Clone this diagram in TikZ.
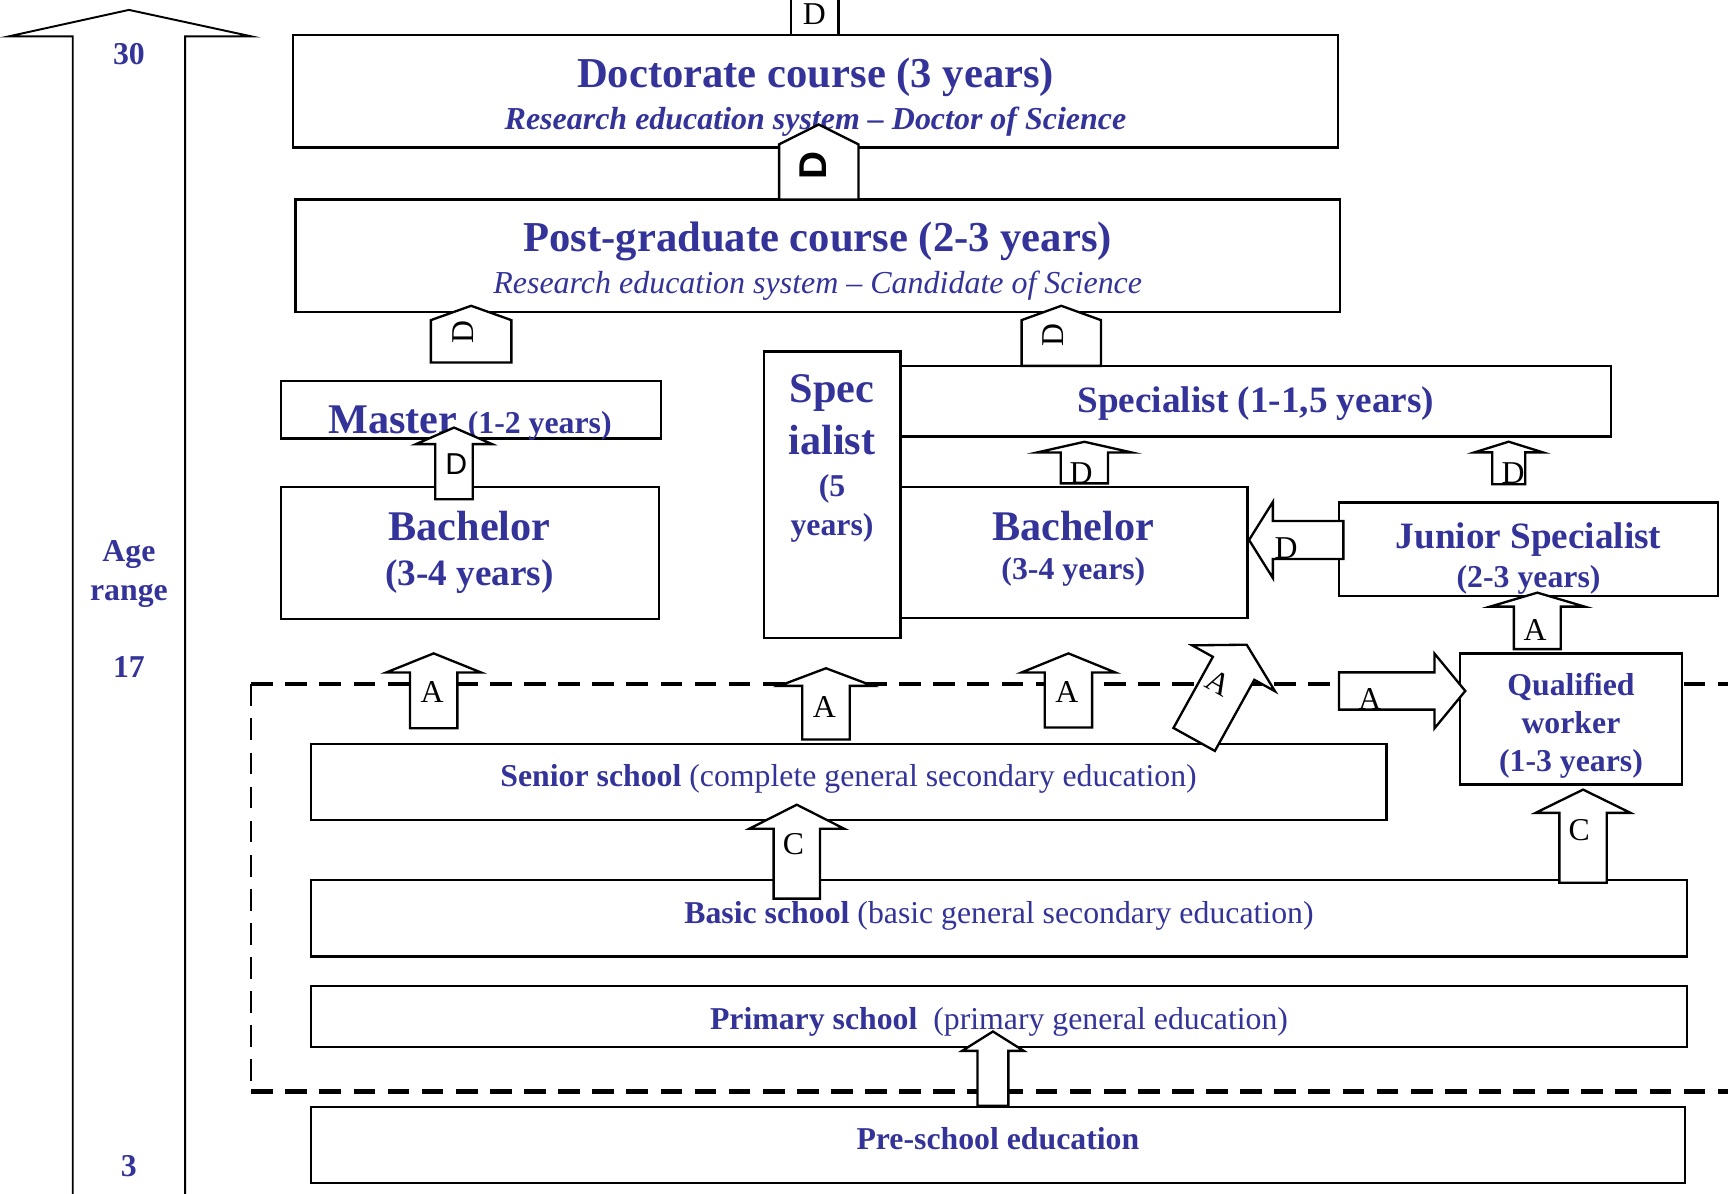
\documentclass[tikz,border=0pt]{standalone}
\usepackage{fontspec}
\setmainfont{Liberation Serif}
\newfontfamily\arialfont{Liberation Sans}
\usepackage{xcolor}
\definecolor{edublue}{RGB}{51,51,153}

\newcommand{\blockarrow}[6]{%
  \begin{scope}[shift={#1}, rotate=#2]
    \path[draw, fill=white] (-#3, 0) -- (-#3, -#5) -- (-#4, -#5) -- (0, -#5-#6) -- (#4, -#5) -- (#3, -#5) -- (#3, 0) -- cycle;
  \end{scope}}

\tikzset{
  box/.style={draw, fill=white},
  zone/.style={line width=1.1pt, dash pattern=on 5.6pt off 3.2pt},
  headname/.style={text=edublue, inner sep=0pt, font=\bfseries\fontsize{11}{13}\selectfont},
  bigname/.style={text=edublue, inner sep=0pt, font=\bfseries\fontsize{10.9}{13.4}\selectfont},
  midname/.style={text=edublue, inner sep=0pt, font=\bfseries\fontsize{9.6}{11}\selectfont},
  smallname/.style={text=edublue, inner sep=0pt, font=\bfseries\fontsize{8.2}{10.1}\selectfont},
  plainname/.style={text=edublue, inner sep=0pt, font=\fontsize{8.2}{10}\selectfont},
  subname/.style={text=edublue, inner sep=0pt, font=\itshape\fontsize{8.25}{10}\selectfont},
  gate/.style={inner sep=0pt, font=\fontsize{8.2}{10}\selectfont}
}

\begin{document}
\begin{tikzpicture}[x=0.01cm, y=-0.01cm, line width=0.6pt]
    \useasboundingbox (0, 0) rectangle (1568, 1083);
    \clip (0, 0) rectangle (1568, 1083);

    \path[draw, line width=0.5pt] (66, 1090) -- (66, 33) -- (8, 33) -- (117, 9) -- (228, 33) -- (168, 33) -- (168, 1090);
    \node[smallname] (age30) at (117, 49) {30};
    \node[smallname, align=center, font=\bfseries\fontsize{8.2}{9.9}\selectfont] (agerange) at (117, 521) {Age\\range};
    \node[smallname] (age17) at (117, 605) {17};
    \node[smallname] (age3) at (117, 1058) {3};

    \path[draw, zone] (228, 621) -- (1568, 621);
    \path[draw, zone] (228, 990.5) -- (1568, 990.5);
    \path[draw, zone, line width=0.6pt] (228, 621) -- (228, 990.5);

    \path[box] (266, 32) rectangle (1214, 134);
    \node[headname] (doctorate) at (740, 70) {Doctorate course (3 years)};
    \node[subname, font=\bfseries\itshape\fontsize{8.25}{10}\selectfont] (doctoratesub) at (740, 110) {Research education system – Doctor of Science};

    \path[box] (268, 181) rectangle (1216, 283);
    \node[headname] (postgrad) at (742, 219) {Post-graduate course (2-3 years)};
    \node[subname] (postgradsub) at (742, 259) {Research education system – Candidate of Science};

    \path[box] (255, 346) rectangle (600, 398);
    \node[bigname, anchor=base] (master) at (426.5, 393) {Master {\fontsize{8.2}{10}\selectfont(1-2 years)}};

    \path[box] (255, 442) rectangle (598, 562);
    \node[bigname] (bachelorl) at (426, 477) {Bachelor};
    \node[midname] (bachelorlyears) at (426, 523) {(3-4 years)};

    \path[box] (693, 319) rectangle (817, 579);
    \node[bigname, align=center] (specfive) at (755, 376.5) {Spec\\ialist};
    \node[smallname, align=center] (specfiveyears) at (755, 461) {(5\\years)};

    \path[box] (817, 332) rectangle (1462, 396) node[midway, midname, yshift=-0.6pt] (specialist) {Specialist (1-1,5 years)};

    \path[box] (817, 442) rectangle (1132, 561);
    \node[bigname] (bachelorr) at (974, 477) {Bachelor};
    \node[smallname] (bachelorryears) at (974, 519) {(3-4 years)};

    \path[box] (1215, 456) rectangle (1559, 541);
    \node[midname] (junior) at (1387, 490) {Junior Specialist};
    \node[smallname] (junioryears) at (1387, 526) {(2-3 years)};

    \path[box] (1325, 593) rectangle (1526, 712) node[midway, smallname, align=center, yshift=-1.7pt, font=\bfseries\fontsize{8.2}{9.9}\selectfont] (qualified) {Qualified\\worker\\(1-3 years)};

    \path[box] (282, 675) rectangle (1258, 744) node[midway, plainname, yshift=0.7pt] (senior) {\textbf{Senior school} (complete general secondary education)};
    \path[box] (282, 798.5) rectangle (1531, 868) node[midway, plainname, yshift=0.7pt] (basic) {\textbf{Basic school} (basic general secondary education)};
    \path[box] (282, 894.5) rectangle (1531, 950) node[midway, plainname, yshift=-1.4pt] (primary) {\textbf{Primary school}\ \ (primary general education)};
    \path[box] (282, 1004.3) rectangle (1529, 1073.7) node[midway, smallname, yshift=1.6pt] (preschool) {Pre-school education};

    \path[box] (718, -10) rectangle (761, 32);
    \node[gate] (dtop) at (739, 13) {D};

    \blockarrow{(743, 181)}{0}{36}{36}{50}{18}
    \node[gate, rotate=90, font=\arialfont\bfseries\fontsize{10}{12}\selectfont] (ddoctor) at (738, 150) {D};

    \blockarrow{(427.5, 329)}{0}{36.5}{36.5}{38.5}{13}
    \node[gate, rotate=90] (dmaster) at (420, 301) {D};
    \blockarrow{(963, 332)}{0}{36}{36}{41.5}{13}
    \node[gate, rotate=90] (dspecialist) at (955.5, 304) {D};

    \blockarrow{(412, 453)}{0}{17}{34.5}{50}{15}
    \node[gate, font=\arialfont\fontsize{7.8}{9}\selectfont] (dbachelorl) at (414, 421) {D};

    \blockarrow{(984, 438.6)}{0}{21.4}{43}{28}{9.7}
    \node[gate] (dbachelorr) at (981, 429) {D};
    \blockarrow{(1369, 439.5)}{0}{15}{31}{29}{9.7}
    \node[gate] (djunior) at (1373, 429) {D};

    \blockarrow{(1219, 490)}{90}{17.25}{34.5}{64}{21.6}
    \node[gate] (dleft) at (1167, 497) {D};

    \blockarrow{(1395, 589)}{0}{21.3}{43}{38.5}{12.7}
    \node[gate] (ajunior) at (1393, 572) {A};

    \blockarrow{(1215, 627)}{-90}{16.9}{34}{86.6}{28}
    \node[gate] (aqualified) at (1243, 634) {A};

    \blockarrow{(1083.6, 671)}{-29}{21.5}{43}{73.8}{24.5}
    \node[gate, rotate=-29] (atilted) at (1106, 620) {A};

    \blockarrow{(393.5, 660.8)}{0}{21.5}{43}{50.6}{17.3}
    \node[gate] (abachelorl) at (392, 628) {A};
    \blockarrow{(749.5, 671.1)}{0}{21.5}{42.5}{48.7}{16}
    \node[gate] (aspecfive) at (748, 642) {A};
    \blockarrow{(969.5, 660.2)}{0}{21.5}{42.5}{50}{17.3}
    \node[gate] (abachelorr) at (968, 628) {A};

    \blockarrow{(723, 815.4)}{0}{21}{43}{63.4}{21.8}
    \node[gate] (csenior) at (720, 766) {C};
    \blockarrow{(1436.5, 801)}{0}{21.5}{43}{63.4}{21.1}
    \node[gate] (cqualified) at (1433, 753) {C};

    \blockarrow{(901, 1003.3)}{0}{14}{28}{49.7}{17.6}
  \end{tikzpicture}
\end{document}
